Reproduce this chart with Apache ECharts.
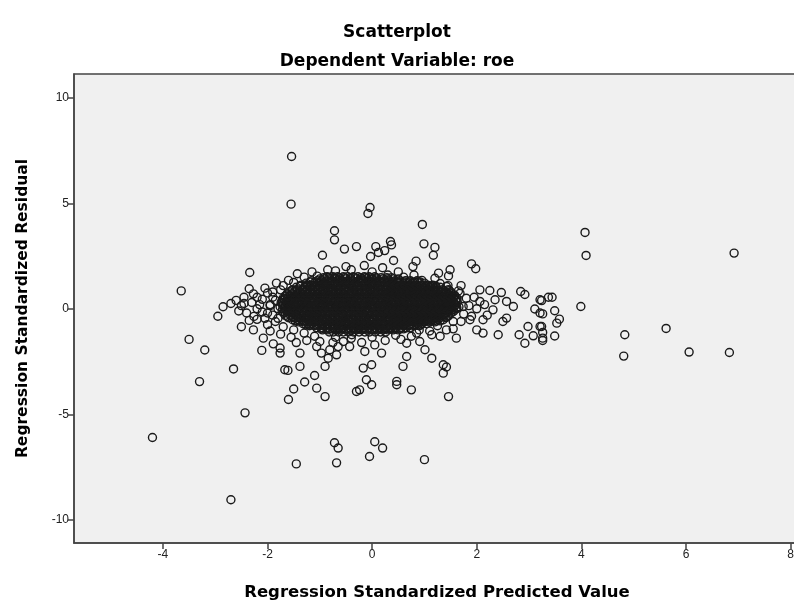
<!DOCTYPE html>
<html>
<head>
<meta charset="utf-8">
<script src="https://cdn.jsdelivr.net/npm/echarts@6/dist/echarts.min.js"></script>
<style>
  html, body { margin: 0; padding: 0; background: #fff; }
  #main { width: 794px; height: 603px; }
</style>
</head>
<body>
<div id="main"></div>
<script>
// tick labels
const xTicks = [-4, -2, 0, 2, 4, 6, 8]
const yTicks = [-10, -5, 0, 5, 10]

// scattered cases: [predicted, residual]
const outliers = [
  [-1.54, 7.22], [-1.55, 4.96], [-0.04, 4.8], [-0.08, 4.52], [0.96, 4.0],
  [-0.72, 3.7], [-0.72, 3.27], [-0.53, 2.83], [-0.3, 2.95], [0.07, 2.95],
  [0.35, 3.19], [0.37, 3.03], [0.24, 2.76], [0.12, 2.67], [-0.03, 2.48],
  [-0.95, 2.54], [0.99, 3.08], [1.2, 2.91], [1.17, 2.54], [0.41, 2.29],
  [0.84, 2.26], [0.78, 2.0], [1.9, 2.13], [1.98, 1.9], [1.27, 1.69],
  [1.49, 1.85], [1.46, 1.56], [-1.43, 1.66], [-2.34, 1.72], [2.06, 0.9],
  [2.25, 0.87], [2.47, 0.77], [2.84, 0.82], [2.92, 0.68], [3.21, 0.43],
  [3.37, 0.55], [2.7, 0.11], [2.57, 0.35], [3.11, -0.01], [3.21, -0.2],
  [2.57, -0.44], [2.5, -0.6], [2.98, -0.84], [3.21, -0.84], [3.26, -1.39],
  [2.81, -1.23], [2.92, -1.63], [3.08, -1.28], [2.41, -1.23], [2.12, -1.15],
  [2.12, -0.52], [1.87, -0.52], [1.61, -1.39], [2.0, -1.0], [2.31, -0.05],
  [2.35, 0.43], [2.06, 0.35], [1.74, 0.11], [1.68, 0.74], [1.42, 1.06],
  [-2.27, 0.71], [-2.05, 0.98], [-1.83, 1.22], [-2.26, -0.36], [-2.27, -1.0],
  [-2.08, -1.39], [-2.11, -1.97], [-1.89, -1.66], [-1.76, -1.86], [-1.76, -2.1],
  [-1.38, -2.1], [-1.67, -2.89], [-1.61, -2.92], [-1.29, -3.47], [-1.38, -2.73],
  [-1.1, -3.16], [-1.06, -3.76], [-0.9, -4.16], [-0.9, -2.73], [-0.84, -2.34],
  [-0.97, -2.1], [-1.06, -1.79], [-0.81, -1.94], [-0.68, -2.18], [-0.65, -1.79],
  [-0.43, -1.79], [-0.17, -2.81], [-0.01, -2.65], [-0.01, -3.6], [-0.24, -3.84],
  [-0.3, -3.92], [-0.11, -3.36], [0.05, -1.71], [0.18, -2.1], [0.47, -3.44],
  [0.47, -3.6], [0.75, -3.84], [0.59, -2.73], [0.66, -2.26], [0.66, -1.63],
  [0.91, -1.55], [1.01, -1.94], [1.14, -2.34], [1.36, -2.65], [1.36, -3.05],
  [1.42, -2.76], [1.46, -4.16], [-0.14, -2.02], [-0.39, -1.23], [-0.33, -0.92],
  [0.85, -1.15], [1.14, -1.23], [1.42, -1.0],
  [4.07, 3.62], [4.09, 2.53], [6.92, 2.64], [3.99, 0.11], [4.83, -1.23],
  [4.81, -2.24], [5.62, -0.93], [6.06, -2.05], [6.83, -2.07],
  [3.44, 0.55], [3.24, 0.39], [3.26, -0.24], [3.49, -0.09], [3.58, -0.49],
  [3.53, -0.68], [3.24, -0.84], [3.26, -1.12], [3.49, -1.29], [3.26, -1.5],
  [-3.65, 0.85], [-2.95, -0.35], [-2.85, 0.1], [-2.7, 0.25], [-2.6, 0.4],
  [-2.5, 0.15], [-2.45, 0.55], [-2.4, -0.2], [-2.3, 0.3], [-2.2, -0.5],
  [-2.2, 0.0], [-2.1, 0.45], [-2.0, 0.75], [-2.0, -0.2], [-1.95, 0.2],
  [-3.5, -1.45], [-3.2, -1.95], [-3.3, -3.45], [-2.65, -2.85], [-4.2, -6.1],
  [-2.43, -4.93], [-2.7, -9.05], [-1.45, -7.35], [-0.72, -6.35], [-0.65, -6.6],
  [-0.68, -7.3], [0.05, -6.3], [0.2, -6.6], [-0.05, -7.0], [1.0, -7.15],
  [-1.6, -4.3], [-1.5, -3.8]
]

// thinner ring of cases round the dense centre
const halo = [
  [-1.3, 1.5], [-1.05, 1.55], [0.3, 1.6], [0.6, 1.5], [0.95, 1.35], [1.3, 1.2],
  [-0.7, 1.8], [-0.4, 1.85], [0.0, 1.75], [-1.5, 1.25], [-1.75, 0.9], [-1.9, 0.55],
  [-1.95, 0.15], [-1.9, -0.3], [-1.85, -0.6], [-1.7, -0.85], [-1.5, -1.0], [-1.3, -1.15],
  [-1.1, -1.3], [-0.7, -1.35], [-0.4, -1.4], [0.0, -1.35], [0.45, -1.25], [0.9, -1.0],
  [1.25, -0.8], [1.55, -0.6], [1.75, -0.25], [1.85, 0.15], [1.8, 0.5], [1.65, 0.85],
  [1.45, 1.1], [-2.35, 0.95], [-2.2, 0.55], [-2.15, 0.2], [-2.1, -0.15], [-2.05, -0.45],
  [-2.0, -0.75], [-1.95, -1.05], [-1.85, 0.4], [-1.8, 0.0], [-1.8, -0.45], [-1.9, 0.8],
  [-1.7, 1.1], [-1.6, 1.35], [-2.45, 0.25], [-2.55, -0.1], [-2.35, -0.55], [-2.5, -0.85],
  [-1.75, -1.2], [-1.55, -1.35], [-1.45, -1.6], [-1.25, -1.5], [-1.0, -1.55], [-0.75, -1.6],
  [-0.55, -1.55], [-0.2, -1.6], [0.25, -1.5], [0.55, -1.45], [0.75, -1.3], [1.1, -1.05],
  [1.3, -1.3], [1.55, -0.95], [1.7, -0.6], [1.9, -0.35], [2.0, 0.0], [1.95, 0.55],
  [2.15, 0.2], [2.2, -0.3], [1.7, 1.1], [1.2, 1.45], [0.8, 1.6], [0.5, 1.75],
  [0.2, 1.95], [-0.15, 2.05], [-0.5, 2.0], [-0.85, 1.85], [-1.15, 1.75]
]

// dense centre, one row per residual level: [residual, [predicted...]]
const coreRows = [
  [1.52, [-0.86, -0.75, -0.66, -0.55, -0.47, -0.36, -0.27, -0.15, -0.06, 0.05]],
  [1.47, [-0.93, -0.83, -0.72, -0.63, -0.53, -0.42, -0.33, -0.22, -0.13, -0.02, 0.08, 0.17, 0.28, 0.37]],
  [1.42, [-1.0, -0.91, -0.81, -0.7, -0.61, -0.5, -0.41, -0.31, -0.2, -0.1, 0.0, 0.1, 0.21, 0.3, 0.4, 0.5]],
  [1.33, [-1.16, -1.05, -0.97, -0.86, -0.77, -0.66, -0.58, -0.46, -0.37, -0.26, -0.17, -0.07, 0.04, 0.13, 0.24, 0.33, 0.44, 0.53, 0.64, 0.73, 0.86]],
  [1.27, [-1.18, -1.08, -0.98, -0.88, -0.78, -0.68, -0.58, -0.48, -0.38, -0.28, -0.18, -0.08, 0.02, 0.12, 0.22, 0.32, 0.42, 0.52, 0.62, 0.72, 0.82, 0.92]],
  [1.22, [-1.26, -1.11, -1.0, -0.91, -0.81, -0.7, -0.61, -0.5, -0.41, -0.31, -0.2, -0.11, 0.0, 0.1, 0.19, 0.3, 0.39, 0.5, 0.6, 0.7, 0.79, 0.9, 1.0]],
  [1.12, [-1.36, -1.24, -1.16, -1.05, -0.95, -0.86, -0.75, -0.66, -0.56, -0.45, -0.36, -0.25, -0.16, -0.05, 0.05, 0.14, 0.25, 0.36, 0.45, 0.55, 0.66, 0.74, 0.85, 0.95, 1.06, 1.16]],
  [1.07, [-1.38, -1.28, -1.18, -1.08, -0.98, -0.88, -0.78, -0.68, -0.58, -0.48, -0.38, -0.28, -0.18, -0.08, 0.02, 0.12, 0.22, 0.32, 0.42, 0.52, 0.62, 0.72, 0.82, 0.92, 1.02, 1.12, 1.22]],
  [1.02, [-1.45, -1.3, -1.2, -1.1, -1.0, -0.9, -0.81, -0.7, -0.6, -0.51, -0.4, -0.3, -0.21, -0.1, 0.0, 0.1, 0.2, 0.3, 0.4, 0.5, 0.6, 0.7, 0.8, 0.9, 1.0, 1.1, 1.21, 1.3]],
  [0.96, [0.28, 0.38, 0.48, 0.58, 0.68, 0.78, 0.88, 0.98, 1.08, 1.18]],
  [0.91, [-1.52, -1.43, -1.33, -1.25, -1.14, -1.04, -0.95, -0.84, -0.76, -0.65, -0.54, -0.46, -0.35, -0.26, -0.15, -0.04, 0.05, 0.16, 0.24, 0.35, 0.46, 0.55, 0.64, 0.75, 0.84, 0.95, 1.05, 1.16, 1.25, 1.35, 1.46]],
  [0.86, [-1.53, -1.43, -1.33, -1.23, -1.13, -1.03, -0.93, -0.83, -0.73, -0.63, -0.53, -0.43, -0.33, -0.23, -0.13, -0.03, 0.07, 0.17, 0.27, 0.37, 0.47, 0.57, 0.67, 0.77, 0.87, 0.97, 1.07, 1.17, 1.27, 1.37, 1.47]],
  [0.81, [-1.58, -1.48, -1.39, -1.29, -1.19, -1.1, -1.0, -0.9, -0.8, -0.7, -0.6, -0.5, -0.4, -0.3, -0.2, -0.1, 0.0, 0.1, 0.2, 0.3, 0.4, 0.5, 0.6, 0.7, 0.8, 0.9, 1.0, 1.1, 1.2, 1.3, 1.4, 1.5]],
  [0.76, [0.32, 0.42, 0.52, 0.62, 0.72, 0.82, 0.92, 1.02, 1.12, 1.22, 1.32, 1.42]],
  [0.72, [-1.62, -1.53, -1.44, -1.35, -1.23, -1.15, -1.04, -0.96, -0.85, -0.74, -0.65, -0.56, -0.44, -0.35, -0.25, -0.14, -0.06, 0.05, 0.14, 0.26, 0.35, 0.44, 0.56, 0.65, 0.74, 0.85, 0.96, 1.05, 1.14, 1.25, 1.36, 1.45, 1.52]],
  [0.66, [-1.63, -1.53, -1.43, -1.33, -1.23, -1.13, -1.03, -0.93, -0.83, -0.73, -0.63, -0.53, -0.43, -0.33, -0.23, -0.13, -0.03, 0.07, 0.17, 0.27, 0.37, 0.47, 0.57, 0.67, 0.77, 0.87, 0.97, 1.07, 1.17, 1.27, 1.37, 1.47, 1.57]],
  [0.61, [-1.66, -1.57, -1.48, -1.39, -1.3, -1.2, -1.1, -1.0, -0.9, -0.8, -0.7, -0.6, -0.5, -0.4, -0.3, -0.2, -0.1, 0.0, 0.1, 0.2, 0.3, 0.4, 0.5, 0.6, 0.7, 0.8, 0.9, 1.0, 1.1, 1.2, 1.3, 1.4, 1.5, 1.58]],
  [0.56, [0.28, 0.38, 0.48, 0.58, 0.68, 0.78, 0.88, 0.98, 1.08, 1.18, 1.28, 1.38, 1.48]],
  [0.51, [-1.7, -1.62, -1.52, -1.43, -1.34, -1.25, -1.14, -1.05, -0.94, -0.85, -0.76, -0.64, -0.55, -0.46, -0.34, -0.26, -0.15, -0.05, 0.04, 0.15, 0.26, 0.34, 0.45, 0.56, 0.65, 0.76, 0.84, 0.95, 1.06, 1.15, 1.24, 1.35, 1.46, 1.55, 1.62]],
  [0.46, [-1.68, -1.58, -1.48, -1.38, -1.28, -1.18, -1.08, -0.98, -0.88, -0.78, -0.68, -0.58, -0.48, -0.38, -0.28, -0.18, -0.08, 0.02, 0.12, 0.22, 0.32, 0.42, 0.52, 0.62, 0.72, 0.82, 0.92, 1.02, 1.12, 1.22, 1.32, 1.42, 1.52, 1.62]],
  [0.4, [-1.72, -1.61, -1.5, -1.4, -1.3, -1.2, -1.1, -1.0, -0.9, -0.8, -0.7, -0.6, -0.5, -0.4, -0.3, -0.2, -0.1, 0.0, 0.1, 0.2, 0.3, 0.4, 0.5, 0.6, 0.7, 0.8, 0.9, 1.0, 1.1, 1.2, 1.3, 1.4, 1.5, 1.6]],
  [0.35, [0.31, 0.41, 0.51, 0.61, 0.71, 0.81, 0.91, 1.01, 1.11, 1.21, 1.31, 1.41, 1.51]],
  [0.3, [-1.74, -1.65, -1.56, -1.45, -1.36, -1.26, -1.17, -1.06, -0.97, -0.86, -0.75, -0.66, -0.57, -0.45, -0.36, -0.27, -0.16, -0.06, 0.06, 0.15, 0.24, 0.36, 0.45, 0.54, 0.66, 0.75, 0.86, 0.94, 1.04, 1.16, 1.25, 1.34, 1.44, 1.56, 1.63]],
  [0.25, [-1.73, -1.63, -1.53, -1.43, -1.33, -1.23, -1.13, -1.03, -0.93, -0.83, -0.73, -0.63, -0.53, -0.43, -0.33, -0.23, -0.13, -0.03, 0.07, 0.17, 0.27, 0.37, 0.47, 0.57, 0.67, 0.77, 0.87, 0.97, 1.07, 1.17, 1.27, 1.37, 1.47, 1.57]],
  [0.2, [-1.7, -1.6, -1.5, -1.41, -1.3, -1.21, -1.1, -1.01, -0.9, -0.8, -0.7, -0.6, -0.5, -0.4, -0.31, -0.2, -0.1, 0.0, 0.1, 0.2, 0.3, 0.4, 0.5, 0.6, 0.7, 0.8, 0.9, 1.0, 1.1, 1.2, 1.3, 1.4, 1.5, 1.6]],
  [0.15, [0.29, 0.39, 0.49, 0.59, 0.69, 0.79, 0.89, 0.99, 1.09, 1.19, 1.29, 1.39, 1.49, 1.58]],
  [0.1, [-1.76, -1.66, -1.55, -1.46, -1.35, -1.24, -1.15, -1.04, -0.95, -0.84, -0.76, -0.65, -0.54, -0.44, -0.35, -0.24, -0.15, -0.04, 0.05, 0.16, 0.25, 0.34, 0.46, 0.55, 0.64, 0.76, 0.85, 0.96, 1.05, 1.14, 1.26, 1.35, 1.46, 1.55, 1.66]],
  [0.05, [-1.68, -1.58, -1.48, -1.38, -1.28, -1.18, -1.08, -0.98, -0.88, -0.78, -0.68, -0.58, -0.48, -0.38, -0.28, -0.18, -0.08, 0.02, 0.12, 0.22, 0.32, 0.42, 0.52, 0.62, 0.72, 0.82, 0.92, 1.02, 1.12, 1.22, 1.32, 1.42, 1.52, 1.62]],
  [0.0, [-1.71, -1.6, -1.5, -1.4, -1.3, -1.2, -1.1, -1.0, -0.9, -0.8, -0.7, -0.6, -0.5, -0.4, -0.3, -0.2, -0.1, 0.0, 0.1, 0.2, 0.3, 0.4, 0.5, 0.6, 0.7, 0.8, 0.9, 1.0, 1.1, 1.2, 1.3, 1.4, 1.5, 1.61]],
  [-0.05, [0.33, 0.43, 0.53, 0.63, 0.73, 0.83, 0.93, 1.03, 1.13, 1.23, 1.33, 1.43, 1.53]],
  [-0.11, [-1.72, -1.63, -1.54, -1.44, -1.33, -1.25, -1.16, -1.05, -0.96, -0.85, -0.74, -0.66, -0.55, -0.46, -0.36, -0.25, -0.14, -0.05, 0.06, 0.14, 0.26, 0.35, 0.44, 0.56, 0.65, 0.74, 0.86, 0.95, 1.06, 1.15, 1.24, 1.36, 1.45, 1.56]],
  [-0.16, [-1.67, -1.57, -1.47, -1.37, -1.27, -1.17, -1.07, -0.97, -0.87, -0.77, -0.67, -0.57, -0.47, -0.37, -0.27, -0.17, -0.07, 0.03, 0.13, 0.23, 0.33, 0.43, 0.53, 0.63, 0.73, 0.83, 0.93, 1.03, 1.13, 1.23, 1.33, 1.43, 1.53]],
  [-0.21, [-1.69, -1.6, -1.5, -1.4, -1.3, -1.2, -1.1, -1.0, -0.9, -0.8, -0.7, -0.6, -0.5, -0.4, -0.3, -0.2, -0.1, 0.0, 0.1, 0.2, 0.3, 0.4, 0.5, 0.6, 0.7, 0.8, 0.9, 1.0, 1.1, 1.2, 1.3, 1.4, 1.5]],
  [-0.26, [0.28, 0.38, 0.48, 0.58, 0.68, 0.78, 0.88, 0.98, 1.08, 1.18, 1.28, 1.38]],
  [-0.31, [-1.66, -1.56, -1.45, -1.36, -1.24, -1.15, -1.06, -0.95, -0.86, -0.75, -0.64, -0.56, -0.45, -0.34, -0.26, -0.15, -0.06, 0.05, 0.14, 0.25, 0.36, 0.45, 0.54, 0.66, 0.75, 0.84, 0.96, 1.05, 1.16, 1.25, 1.34, 1.46]],
  [-0.36, [-1.62, -1.52, -1.42, -1.32, -1.22, -1.12, -1.02, -0.92, -0.82, -0.72, -0.62, -0.52, -0.42, -0.32, -0.22, -0.12, -0.02, 0.08, 0.18, 0.28, 0.38, 0.48, 0.58, 0.68, 0.78, 0.88, 0.98, 1.08, 1.18, 1.28, 1.38, 1.45]],
  [-0.42, [-1.6, -1.5, -1.4, -1.3, -1.2, -1.1, -1.0, -0.9, -0.8, -0.7, -0.6, -0.5, -0.4, -0.3, -0.2, -0.1, 0.0, 0.1, 0.2, 0.3, 0.4, 0.5, 0.6, 0.7, 0.8, 0.9, 1.0, 1.1, 1.2, 1.3, 1.41]],
  [-0.47, [0.31, 0.41, 0.51, 0.61, 0.71, 0.81, 0.91, 1.01, 1.11, 1.21]],
  [-0.52, [-1.52, -1.42, -1.34, -1.23, -1.14, -1.05, -0.94, -0.86, -0.75, -0.66, -0.55, -0.44, -0.36, -0.25, -0.16, -0.05, 0.04, 0.15, 0.26, 0.35, 0.45, 0.54, 0.65, 0.76, 0.85, 0.94, 1.05, 1.15, 1.26, 1.36]],
  [-0.57, [-1.47, -1.37, -1.27, -1.17, -1.07, -0.97, -0.87, -0.77, -0.67, -0.57, -0.47, -0.37, -0.27, -0.17, -0.07, 0.03, 0.13, 0.23, 0.33, 0.43, 0.53, 0.63, 0.73, 0.83, 0.93, 1.03, 1.13, 1.23, 1.3]],
  [-0.62, [-1.41, -1.3, -1.2, -1.1, -1.0, -0.9, -0.8, -0.7, -0.6, -0.5, -0.4, -0.3, -0.2, -0.1, 0.0, 0.1, 0.2, 0.3, 0.4, 0.5, 0.6, 0.7, 0.8, 0.9, 1.0, 1.1, 1.2]],
  [-0.71, [-1.32, -1.23, -1.15, -1.04, -0.95, -0.84, -0.76, -0.65, -0.54, -0.46, -0.35, -0.24, -0.15, -0.06, 0.05, 0.16, 0.24, 0.35, 0.46, 0.55, 0.64, 0.75, 0.86, 0.95, 1.04]],
  [-0.76, [-1.27, -1.17, -1.07, -0.97, -0.87, -0.77, -0.67, -0.57, -0.47, -0.37, -0.27, -0.17, -0.07, 0.03, 0.13, 0.23, 0.33, 0.43, 0.53, 0.63, 0.73, 0.83, 0.93]],
  [-0.8, [-1.2, -1.1, -1.0, -0.9, -0.8, -0.7, -0.6, -0.5, -0.4, -0.3, -0.2, -0.1, 0.0, 0.1, 0.2, 0.3, 0.4, 0.5, 0.6, 0.7, 0.8, 0.9]],
  [-0.9, [-1.06, -0.95, -0.86, -0.74, -0.65, -0.56, -0.44, -0.35, -0.26, -0.16, -0.05, 0.06, 0.15, 0.26, 0.34, 0.45, 0.56, 0.65, 0.72]],
  [-0.95, [-0.97, -0.87, -0.77, -0.67, -0.57, -0.47, -0.37, -0.27, -0.17, -0.07, 0.03, 0.13, 0.23, 0.33, 0.43, 0.53, 0.6]],
  [-1.0, [-0.95, -0.85, -0.7, -0.6, -0.5, -0.4, -0.3, -0.2, -0.1, 0.0, 0.1, 0.2, 0.3, 0.4, 0.5]],
  [-1.1, [-0.82, -0.74, -0.64, -0.55, -0.45, -0.36, -0.25, -0.14, -0.05, 0.06, 0.16, 0.26]]
]

const core = []
coreRows.forEach(([y, xs]) => xs.forEach(x => core.push([x, y])))
const points = outliers.concat(halo, core)

const font = 'Liberation Sans, Arial, sans-serif'
const bold = 'DejaVu Sans, Liberation Sans, sans-serif'
const myChart = echarts.init(document.getElementById('main'), null, { renderer: 'canvas' })

myChart.setOption({
  animation: false,
  backgroundColor: '#fff',
  title: [{
    text: 'Scatterplot',
    left: 'center',
    top: 19,
    textStyle: { fontFamily: bold, fontSize: 17, fontWeight: 'bold', color: '#000' }
  }, {
    text: 'Dependent Variable: roe',
    left: 'center',
    top: 48,
    textStyle: { fontFamily: bold, fontSize: 17, fontWeight: 'bold', color: '#000' }
  }],
  grid: {
    left: 74,
    top: 74,
    width: 726,
    height: 469,
    outerBoundsMode: 'none',
    containLabel: false,
    show: true,
    backgroundColor: '#f0f0f0',
    borderColor: '#444',
    borderWidth: 1.5
  },
  xAxis: {
    type: 'value',
    min: -5.7,
    max: 8.18,
    name: 'Regression Standardized Predicted Value',
    nameLocation: 'middle',
    nameGap: 41,
    nameTextStyle: { fontFamily: bold, fontSize: 16.5, fontWeight: 'bold', color: '#000' },
    axisLine: { show: true, onZero: false, lineStyle: { color: '#444', width: 1.5 } },
    axisTick: { show: true, length: 6, customValues: xTicks, lineStyle: { color: '#444', width: 1.5 } },
    axisLabel: { customValues: xTicks, margin: 6, fontFamily: font, fontSize: 12, color: '#222' },
    splitLine: { show: false }
  },
  yAxis: {
    type: 'value',
    min: -11.1,
    max: 11.13,
    name: 'Regression Standardized Residual',
    nameLocation: 'middle',
    nameGap: 43,
    nameTextStyle: { fontFamily: bold, fontSize: 15.5, fontWeight: 'bold', color: '#000' },
    axisLine: { show: true, onZero: false, lineStyle: { color: '#444', width: 1.5 } },
    axisTick: { show: true, length: 6, customValues: yTicks, lineStyle: { color: '#444', width: 1.5 } },
    axisLabel: { customValues: yTicks, margin: 5, fontFamily: font, fontSize: 12, color: '#222' },
    splitLine: { show: false }
  },
  series: [{
    type: 'scatter',
    data: points,
    symbol: 'circle',
    symbolSize: 8,
    progressive: 0,
    large: false,
    itemStyle: {
      color: 'rgba(0,0,0,0)',
      borderColor: '#1a1a1a',
      borderWidth: 1.4,
      opacity: 1
    },
    emphasis: { disabled: true }
  }]
})
</script>
</body>
</html>
